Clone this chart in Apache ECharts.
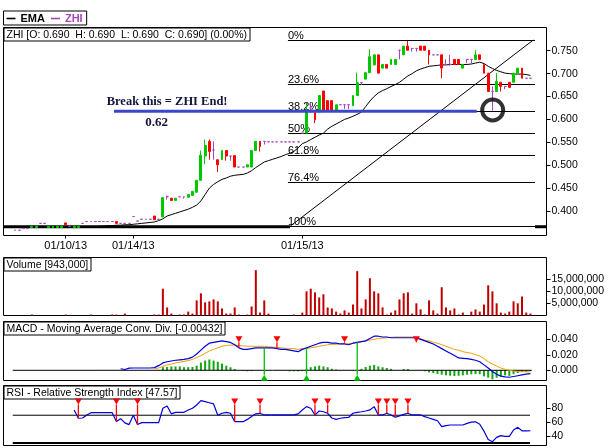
<!DOCTYPE html>
<html><head><meta charset="utf-8">
<script src="https://cdn.jsdelivr.net/npm/echarts@6/dist/echarts.min.js"></script>
<style>html,body{margin:0;padding:0;background:#fff}#c{width:609px;height:448px}</style>
</head><body><div id="c"></div>
<script>
// ---------- data ----------
const dayLabels = ['01/10/13', '01/14/13', '01/15/13'];
const dayBars = [12, 28, 68];

const opens = [
 .358,.358,.362,.362,.364,.364,.373,.373,.364,.364, .364,.364,.374,.367,.364,.364,.373,.377,.377,.377,
 .377,.377,.377,.377,.377,.373,.373,.373,.388,.378, .382,.382,.382,.389,.382,.387,.431,.428,.423,.431,
 .431,.430,.434,.441,.467,.520,.552,.533,.512,.512, .532,.520,.521,.496,.496,.496,.496,.532,.552,.552,
 .551,.551,.551,.551,.551,.551,.551,.551,.570,.570, .625,.615,.616,.662,.641,.641,.619,.632,.632,.632,
 .630,.652,.680,.688,.702,.719,.741,.712,.720,.720, .720,.751,.741,.760,.755,.755,.760,.760,.751,.741,
 .741,.741,.720,.720,.731,.731,.712,.731,.731,.731, .741,.720,.701,.661,.661,.681,.672,.681,.681,.701,
 .712,.690,.690];
const highs = [
 .358,.358,.362,.362,.367,.367,.373,.373,.367,.367, .367,.367,.374,.367,.367,.367,.373,.377,.377,.377,
 .377,.377,.377,.377,.377,.373,.373,.373,.388,.378, .382,.382,.382,.389,.382,.429,.434,.428,.428,.431,
 .431,.436,.443,.467,.532,.556,.556,.552,.512,.532, .532,.520,.521,.496,.496,.501,.532,.552,.552,.552,
 .551,.551,.551,.551,.551,.551,.551,.551,.570,.636, .634,.615,.652,.662,.641,.641,.632,.632,.632,.632,
 .652,.702,.680,.702,.753,.741,.741,.720,.720,.731, .731,.751,.760,.771,.755,.755,.760,.760,.751,.741,
 .741,.741,.731,.741,.731,.731,.720,.731,.731,.751, .741,.720,.701,.672,.701,.681,.672,.681,.701,.712,
 .712,.690,.690];
const lows = [
 .358,.358,.362,.362,.364,.364,.373,.373,.364,.364, .364,.364,.370,.367,.364,.364,.373,.377,.377,.377,
 .377,.377,.377,.377,.373,.373,.373,.373,.388,.378, .382,.382,.382,.381,.382,.387,.425,.423,.423,.431,
 .427,.430,.434,.441,.467,.502,.512,.512,.485,.512, .510,.510,.496,.496,.496,.496,.496,.532,.530,.545,
 .551,.551,.551,.551,.551,.551,.551,.551,.570,.570, .614,.592,.616,.619,.619,.619,.619,.632,.623,.623,
 .630,.652,.675,.688,.702,.719,.701,.712,.712,.720, .720,.731,.741,.751,.748,.748,.751,.751,.720,.741,
 .741,.690,.720,.717,.720,.720,.712,.723,.723,.731, .731,.701,.661,.619,.661,.661,.666,.670,.681,.701,
 .690,.690,.690];
const closes = [
 .358,.358,.362,.362,.367,.367,.373,.373,.367,.367, .367,.367,.370,.367,.367,.367,.373,.377,.377,.377,
 .377,.377,.377,.377,.373,.373,.373,.373,.388,.378, .382,.382,.382,.381,.382,.429,.431,.423,.428,.431,
 .431,.436,.443,.467,.522,.543,.530,.533,.501,.532, .520,.520,.496,.496,.496,.501,.532,.552,.541,.552,
 .551,.551,.551,.551,.551,.551,.551,.551,.570,.617, .625,.599,.652,.619,.619,.619,.632,.632,.632,.632,
 .652,.680,.680,.702,.737,.741,.701,.720,.712,.731, .731,.751,.760,.751,.755,.755,.751,.751,.741,.741,
 .741,.712,.720,.720,.720,.720,.720,.731,.731,.741, .731,.701,.661,.661,.683,.672,.672,.670,.701,.712,
 .690,.690,.690];

// volume in millions of shares
const volumeM = [
 0,0,0,0,0.4,0,0,0,0,0, 0,0,0.4,0,0,0,0,0,0.4,0, 0,0,0,0.4,0.4,0,0.8,0,0,0,
 0,0,0,0.4,0.4,11,3.3,0.8,0,0.4, 0.4,1.6,0.8,6.2,9.1,5.4,5.8,6.6,5.8,2.9,
 0.8,0.8,3.3,0.4,0,0.4,3.7,18.6,1.2,6.2, 0.8,0,0,0,0,0,0.4,0,1.2,9.9,
 11,9.5,7.4,8.7,3.3,2.9,1.6,0.8,2.1,1.2, 4.5,18.2,2.9,6.6,15.3,9.9,9.1,3.3,0.4,1.2,
 2.1,6.6,9.1,9.5,0.8,5.0,2.5,0.4,6.2,2.1, 0.8,11.6,3.3,2.1,2.9,0.4,1.2,0,1.6,2.5,
 1.6,4.5,12.4,9.9,5.0,1.2,0.8,1.6,5.8,5.0, 7.8,1.2,0.8];

const emaStart = 20;
const emaVals = [
 .367,.367,.368,.368,.369,.369,.370,.370,.371,.372,
 .373,.374,.375,.376,.379,.383,.389,.392,.395,.398,
 .401,.404,.408,.413,.422,.436,.450,.458,.464,.469,
 .472,.476,.478,.479,.480,.483,.488,.495,.501,.507,
 .510,.513,.516,.519,.523,.526,.530,.538,.547,.551,
 .556,.561,.566,.570,.579,.585,.590,.595,.600,.603,
 .607,.611,.616,.628,.640,.650,.658,.663,.667,.672,
 .676,.681,.688,.695,.700,.706,.710,.713,.716,.717,
 .718,.719,.719,.720,.720,.720,.720,.720,.721,.723,
 .725,.722,.716,.711,.707,.704,.701,.700,.699,.699,
 .699,.698,.696];

const macdStart = 25;
const macdVals = [
 .002,.001,.0028,.003,.003,.003,.003,.003,.0035,.006,
 .0095,.011,.012,.013,.0135,.014,.015,.017,.021,.026,
 .031,.035,.036,.037,.038,.037,.036,.033,.029,.027,
 .027,.028,.029,.029,.029,.029,.029,.028,.027,.027,
 .026,.025,.024,.027,.029,.031,.033,.035,.036,.036,
 .035,.035,.034,.034,.033,.035,.036,.037,.038,.041,
 .044,.044,.043,.043,.042,.042,.042,.042,.042,.042,
 .042,.040,.038,.036,.034,.031,.028,.025,.022,.019,
 .016,.0155,.015,.014,.013,.011,.007,.003,-.0015,-.005,
 -.0075,-.0085,-.009,-.008,-.007,-.006,-.005,-.00432];

const signalStart = 33;
const signalVals = [
 .0018,.003,.005,.007,.008,.0095,.0105,.0115,.0125,.014,
 .0165,.019,.022,.025,.027,.029,.031,.032,.0325,.0325,
 .032,.0315,.031,.031,.031,.031,.031,.0305,.030,.0295,
 .029,.0285,.028,.028,.027,.028,.028,.029,.030,.031,
 .032,.033,.0335,.0335,.034,.034,.0345,.035,.036,.037,
 .038,.039,.040,.041,.0415,.042,.0425,.043,.043,.043,
 .043,.043,.042,.041,.039,.038,.036,.035,.033,.031,
 .029,.027,.026,.024,.023,.022,.020,.0185,.015,.011,
 .008,.0055,.003,.0012,0,-.001,-.0016,-.0018,-.002,-.002];

const histStart = 35;
const histVals = [
 .004,.0043,.005,.005,.005,.004,.004,.0043,.006,.010,
 .0126,.014,.0126,.011,.0087,.006,.004,.0017,0,-.001,
 -.0013,-.001,0,0,0,0,0,0,0,0,
 -.0013,-.0013,-.0013,-.001,.002,.004,.005,.006,.005,.004,
 .002,.001,0,0,0,0,0,.002,.0043,.006,
 .007,.005,.004,.003,.0017,0,0,.0017,.0017,0,
 0,0,-.0013,-.0026,-.0035,-.0048,-.0057,-.0065,-.007,-.0074,
 -.007,-.0065,-.0057,-.0052,-.0048,-.005,-.0078,-.0095,-.0116,-.0095,
 -.0078,-.0065,-.0072,-.005,-.0035,-.0022,-.002,-.001];

const rsiStart = 14;
const rsiVals = [
 77.5,65.6,66.0,70.3,73.7,73.7,73.7,73.7,73.7,73.7,
 61.0,65.0,59.0,56.5,70.0,56.5,59.3,59.3,59.3,59.3,
 59.3,80.0,83.4,72.0,74.2,74.2,74.2,77.6,80.0,84.8,
 91.1,89.6,88.0,86.3,70.0,72.8,74.2,72.8,60.7,60.7,
 60.7,64.0,68.0,72.0,72.8,70.4,70.4,70.4,70.4,70.4,
 70.4,70.4,70.4,72.0,77.6,82.4,80.0,70.4,76.1,75.0,
 72.8,66.0,64.1,65.6,66.5,67.0,72.8,74.2,75.0,76.1,
 77.6,82.4,70.4,70.4,72.8,70.4,67.0,69.0,71.3,72.8,
 70.4,70.4,70.4,68.0,66.0,64.0,62.0,53.5,55.0,55.9,
 55.9,55.9,55.9,58.3,60.0,60.5,57.0,47.0,35.0,31.8,
 38.0,40.5,39.5,39.5,48.7,52.5,47.5,47.5,47.57];

const macdSellBars = [53, 62, 78, 95];
const macdBuyBars = [59, 69, 81];
const rsiSellBars = [15, 24, 29, 52, 58, 71, 74, 86, 88, 90, 93];

const fibLabels = ['0%', '23.6%', '38.2%', '50%', '61.8%', '76.4%', '100%'];
const fibPrices = [0.7734, 0.6774, 0.6180, 0.5700, 0.5220, 0.4626, 0.3666];
const fibFromBar = 64.6, fibToBar = 123.08;
const trendLine = [[65.1, 0.3666], [122.67, 0.7734]];
const baseLine = 0.3657, baseLineGap = [65.1, 123.08];
const breakLevel = 0.618, breakFrom = 23.43, breakTo = 109.28;
const circleAt = [113.06, 0.6205];
const noteTexts = ['Break this = ZHI End!', '0.62'];
const notePos = [[36, 0.6391], [33.5, 0.5921]];
const rsiLevels = [70, 30];
const lineSpanRsi = [-0.54, 121.9], lineSpanMacd = [-0.54, 122.3];

const infoText = 'ZHI [O: 0.690  H: 0.690  L: 0.690  C: 0.690] (0.00%)';
const volTitle = 'Volume [943,000]';
const macdTitle = 'MACD - Moving Average Conv. Div. [-0.00432]';
const rsiTitle = 'RSI - Relative Strength Index [47.57]';

const priceTicks = [0.40, 0.45, 0.50, 0.55, 0.60, 0.65, 0.70, 0.75];
const volTicks = [5, 10, 15];
const macdTicks = [0, 0.02, 0.04];
const rsiTicks = [40, 60, 80];

// ---------- chart ----------
const FONT = '"Liberation Sans", Arial, sans-serif';
const UP = '#00c800', DOWN = '#ff0000', DOJI = '#a845b8';
const X_MIN = -2.722, X_MAX = 125.80;

function series(start, vals) { return vals.map((v, k) => [start + k, v]); }

const candleData = opens.map((o, i) => {
  const it = { value: [i, o, closes[i], lows[i], highs[i]] };
  if (o === closes[i]) it.itemStyle = { color: DOJI, color0: DOJI, borderColor: DOJI, borderColor0: DOJI, borderColorDoji: DOJI };
  return it;
});

function seg(xi, yi, pts, color, width, z, name) {
  return { type: 'line', name: name, xAxisIndex: xi, yAxisIndex: yi, data: pts, showSymbol: false, symbol: 'none',
    lineStyle: { color: color, width: width }, itemStyle: { color: color }, z: z, silent: true, animation: false };
}

function markers(xi, yi, bars, vals, start, level, dir, color) {
  return {
    type: 'custom', xAxisIndex: xi, yAxisIndex: yi, z: 8, silent: true,
    data: bars.map(b => [b, vals[b - start], level]),
    renderItem: function (params, api) {
      const p = api.coord([api.value(0), api.value(1)]);
      const t = api.coord([api.value(0), api.value(2)]);
      const w = 3.5, h = 6;
      let tri, s;
      if (dir === 'down') { tri = [[t[0] - w, t[1] - h / 2], [t[0] + w, t[1] - h / 2], [t[0], t[1] + h / 2]]; s = t[1] + h / 2; }
      else { tri = [[t[0] - w, t[1] + h / 2], [t[0] + w, t[1] + h / 2], [t[0], t[1] - h / 2]]; s = t[1] - h / 2; }
      return { type: 'group', children: [
        { type: 'line', shape: { x1: t[0], y1: s, x2: p[0], y2: p[1] }, style: { stroke: color, lineWidth: 1.3 } },
        { type: 'polygon', shape: { points: tri }, style: { fill: color } }
      ] };
    }
  };
}

function yAx(grid, min, max, vals, fmt) {
  return { type: 'value', gridIndex: grid, position: 'right', min: min, max: max,
    splitLine: { show: false }, axisLine: { show: false, onZero: false },
    axisTick: { show: true, customValues: vals, length: 4, lineStyle: { color: '#000' } },
    axisLabel: { show: true, customValues: vals, formatter: fmt, margin: 5, fontSize: 10.5, color: '#000', fontFamily: FONT } };
}
const xBase = { type: 'value', min: X_MIN, max: X_MAX, position: 'bottom', splitLine: { show: false }, axisLine: { show: false, onZero: false } };
function commas(v) { return String(Math.round(v * 1e6)).replace(/\B(?=(\d{3})+(?!\d))/g, ','); }

function boxTitle(text, top) {
  return { text: text, left: 3.5, top: top, padding: [2, 3, 1, 3], borderColor: '#000', borderWidth: 1, backgroundColor: '#fff',
    textStyle: { fontSize: 10.5, fontWeight: 'normal', color: '#000', fontFamily: FONT } };
}

const gridBase = { left: 3.5, width: 543, show: true, borderColor: '#000', borderWidth: 1, backgroundColor: '#fff', containLabel: false };

const option = {
  animation: false,
  backgroundColor: '#fff',
  title: [boxTitle(infoText, 27.5), boxTitle(volTitle, 257.5), boxTitle(macdTitle, 321.5), boxTitle(rsiTitle, 385.5)],
  legend: {
    left: 3.5, top: 11, padding: [2, 4, 1, 3], borderColor: '#000', borderWidth: 1, backgroundColor: '#fff',
    itemWidth: 9, itemHeight: 1.6, itemGap: 6, icon: 'rect', selectedMode: false,
    textStyle: { fontSize: 11, fontWeight: 'bold', fontFamily: FONT },
    data: [
      { name: 'EMA', icon: 'rect', itemStyle: { color: '#000', borderColor: '#000', borderWidth: 0 }, textStyle: { color: '#000' } },
      { name: 'ZHI', icon: 'rect', itemStyle: { color: DOJI, borderColor: DOJI, borderWidth: 0 }, textStyle: { color: DOJI } }
    ]
  },
  grid: [
    Object.assign({ top: 27.5, height: 208 }, gridBase),
    Object.assign({ top: 257.5, height: 58 }, gridBase),
    Object.assign({ top: 321.5, height: 59 }, gridBase),
    Object.assign({ top: 385.5, height: 60 }, gridBase)
  ],
  xAxis: [
    Object.assign({ gridIndex: 0,
      axisTick: { show: true, customValues: dayBars, length: 3, lineStyle: { color: '#000' } },
      axisLabel: { show: true, customValues: dayBars, formatter: v => dayLabels[dayBars.indexOf(v)], margin: 5, fontSize: 11, color: '#000', fontFamily: FONT } }, xBase),
    Object.assign({ gridIndex: 1, axisTick: { show: false }, axisLabel: { show: false } }, xBase),
    Object.assign({ gridIndex: 2, axisTick: { show: false }, axisLabel: { show: false } }, xBase),
    Object.assign({ gridIndex: 3, axisTick: { show: false }, axisLabel: { show: false } }, xBase)
  ],
  yAxis: [
    yAx(0, 0.3465, 0.8007, priceTicks, v => v.toFixed(3)),
    yAx(1, 0, 23.8, volTicks, commas),
    yAx(2, -0.01316, 0.063, macdTicks, v => v.toFixed(3)),
    yAx(3, 26.3, 112.9, rsiTicks, v => String(Math.round(v)))
  ],
  series: [
    // fib retracement levels
    { type: 'custom', xAxisIndex: 0, yAxisIndex: 0, z: 1, silent: true,
      data: fibPrices.map(p => [fibFromBar, p, fibToBar]),
      renderItem: function (params, api) {
        const a = api.coord([api.value(0), api.value(1)]);
        const b = api.coord([api.value(2), api.value(1)]);
        const y = Math.round(a[1]) + 0.5;
        return { type: 'group', children: [
          { type: 'line', shape: { x1: a[0], y1: y, x2: b[0], y2: y }, style: { stroke: '#000', lineWidth: 1 } },
          { type: 'text', x: a[0], y: y + 1, style: { text: fibLabels[params.dataIndex], fill: '#000', font: '11px ' + FONT, align: 'left', verticalAlign: 'bottom' } }
        ] };
      } },
    seg(0, 0, trendLine, '#000', 1, 2),
    seg(0, 0, [[X_MIN, baseLine], [baseLineGap[0], baseLine], [94, '-'], [baseLineGap[1], baseLine], [X_MAX, baseLine]], '#000', 3, 2),
    seg(0, 0, series(emaStart, emaVals), '#000', 1, 3, 'EMA'),
    { type: 'candlestick', name: 'ZHI', xAxisIndex: 0, yAxisIndex: 0, z: 5, barWidth: 2.4, silent: true,
      itemStyle: { color: UP, color0: DOWN, borderColor: UP, borderColor0: DOWN, borderColorDoji: DOJI, borderWidth: 1 },
      data: candleData },
    seg(0, 0, [[breakFrom, breakLevel], [breakTo, breakLevel]], '#3c46c8', 3, 6),
    { type: 'scatter', xAxisIndex: 0, yAxisIndex: 0, z: 7, silent: true, data: [circleAt], symbol: 'circle', symbolSize: 21,
      itemStyle: { color: 'rgba(0,0,0,0)', borderColor: '#000', borderWidth: 4 } },
    { type: 'custom', xAxisIndex: 0, yAxisIndex: 0, z: 9, silent: true, data: notePos,
      renderItem: function (params, api) {
        const c = api.coord([api.value(0), api.value(1)]);
        return { type: 'text', x: c[0], y: c[1], style: { text: noteTexts[params.dataIndex], fill: '#14143a',
          font: 'bold ' + (params.dataIndex === 0 ? 12.5 : 13) + 'px "Liberation Serif", "Times New Roman", serif', align: 'center', verticalAlign: 'middle' } };
      } },
    // volume
    { type: 'bar', xAxisIndex: 1, yAxisIndex: 1, barWidth: 2, silent: true, itemStyle: { color: '#c00000' },
      data: volumeM.map((v, i) => [i, v || '-']) },
    // MACD
    seg(2, 2, [[lineSpanMacd[0], 0], [lineSpanMacd[1], 0]], '#000', 1, 2),
    { type: 'bar', xAxisIndex: 2, yAxisIndex: 2, barWidth: 2, silent: true, itemStyle: { color: '#10a810' },
      data: series(histStart, histVals).map(d => [d[0], d[1] || '-']) },
    seg(2, 2, series(signalStart, signalVals), '#f0a000', 1, 3),
    seg(2, 2, series(macdStart, macdVals), '#0000dd', 1.2, 4),
    markers(2, 2, macdSellBars, macdVals, macdStart, 0.0401, 'down', '#ff0000'),
    markers(2, 2, macdBuyBars, macdVals, macdStart, -0.0095, 'up', '#00c000'),
    // RSI
    seg(3, 3, [[lineSpanRsi[0], rsiLevels[0]], [lineSpanRsi[1], rsiLevels[0]]], '#000', 1, 2),
    seg(3, 3, [[lineSpanRsi[0], rsiLevels[1]], [lineSpanRsi[1], rsiLevels[1]]], '#000', 2, 2),
    seg(3, 3, series(rsiStart, rsiVals), '#0000dd', 1.2, 4),
    markers(3, 3, rsiSellBars, rsiVals, rsiStart, 89.8, 'down', '#ff0000')
  ]
};

const chart = echarts.init(document.getElementById('c'), null, { renderer: 'canvas' });
chart.setOption(option);
</script>
</body></html>
